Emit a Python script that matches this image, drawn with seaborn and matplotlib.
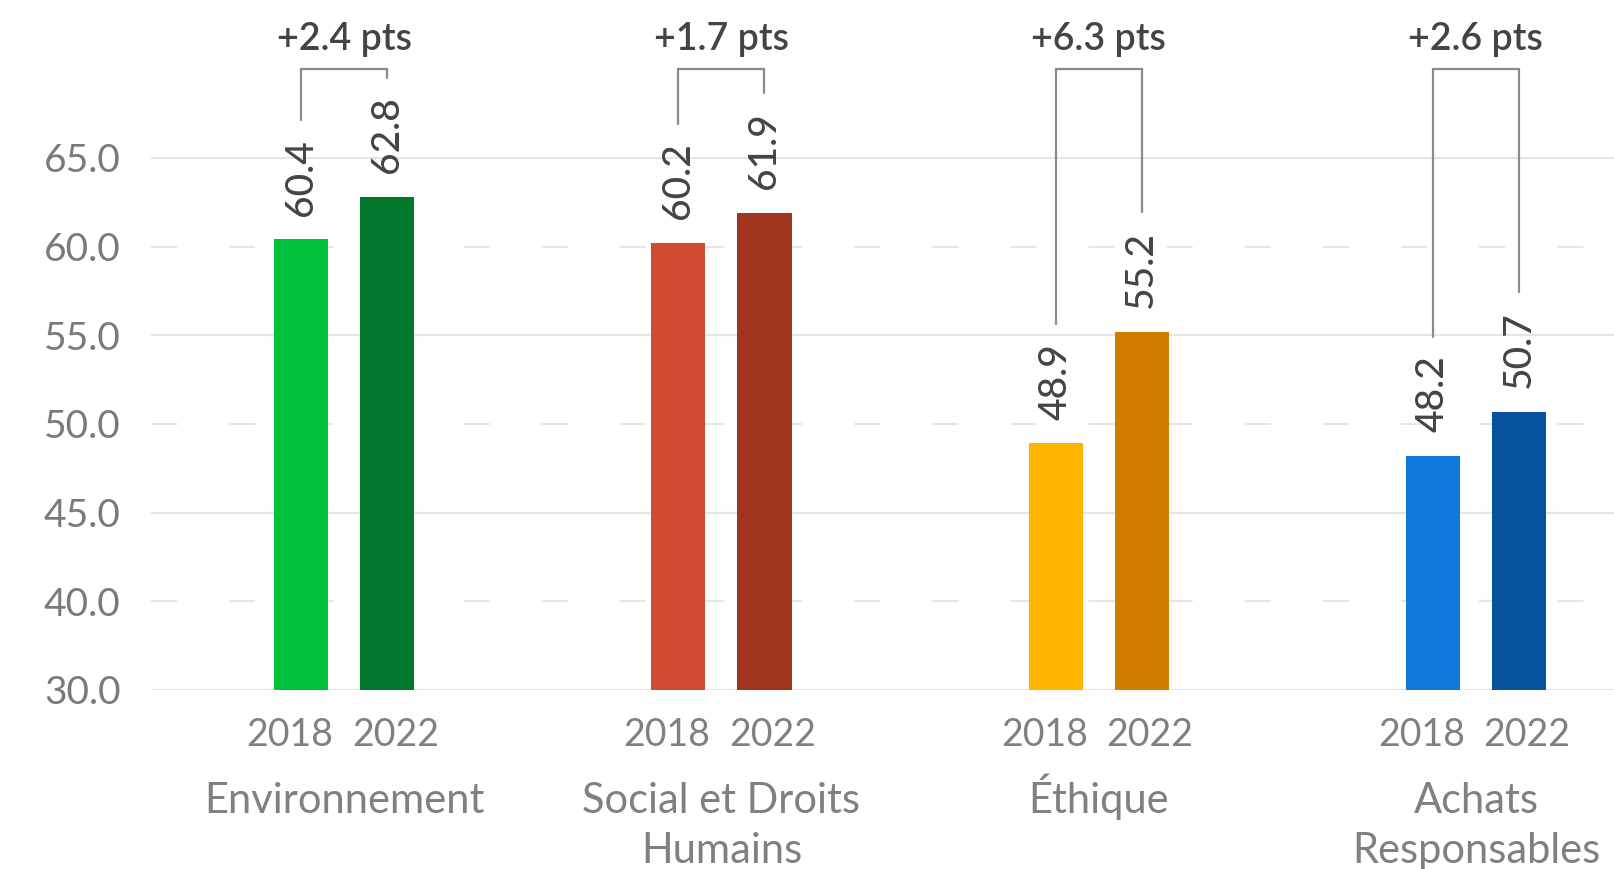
import matplotlib
matplotlib.use("Agg")
import matplotlib.pyplot as plt
import seaborn as sns
import pandas as pd

# Données
categories = ["Environnement", "Social et Droits\nHumains", "Éthique", "Achats\nResponsables"]
annees = ["2018", "2022"]
scores_2018 = [60.4, 60.2, 48.9, 48.2]
scores_2022 = [62.8, 61.9, 55.2, 50.7]
ecarts = [2.4, 1.7, 6.3, 2.6]
couleurs_2018 = ["#00C13A", "#D04A30", "#FFB400", "#0E78DC"]
couleurs_2022 = ["#00772A", "#A0341E", "#D17E00", "#06529C"]

# axe "cassé" : la graduation du bas est affichée 30.0 mais placée à 35
base_axe = 35
ticks_y = [35, 40, 45, 50, 55, 60, 65]
ticks_labels = ["30.0", "40.0", "45.0", "50.0", "55.0", "60.0", "65.0"]
ticks_pointilles = [40, 50, 60]

sns.set_theme(style="white")
plt.rcParams["font.family"] = ["Lato", "DejaVu Sans"]

df = pd.DataFrame(
    {
        "categorie": categories * 2,
        "annee": [annees[0]] * 4 + [annees[1]] * 4,
        "score": scores_2018 + scores_2022,
    }
)

fig = plt.figure(figsize=(16.14, 8.69), dpi=100)
ax = fig.add_axes([151 / 1614, (869 - 690) / 869, 1 - 151 / 1614, 690 / 869])

sns.barplot(
    data=df,
    x="categorie",
    y="score",
    hue="annee",
    order=categories,
    hue_order=annees,
    width=0.456,
    gap=0.37,
    legend=False,
    ax=ax,
    zorder=2,
)

for cont, cols in zip(ax.containers, [couleurs_2018, couleurs_2022]):
    for bar, c in zip(cont, cols):
        bar.set_facecolor(c)
        bar.set_edgecolor("none")

ax.set_ylim(base_axe, 73.9)
ax.set_xlim(-0.512, 3.366)
sns.despine(ax=ax, left=True, bottom=True)
ax.set_xlabel("")
ax.set_ylabel("")

# Grille (pointillés pour 40, 50, 60)
for t in ticks_y:
    if t in ticks_pointilles:
        ax.axhline(t, color="#E6E6E6", lw=1.5, ls=(0, (12.5, 25)), zorder=0)
    else:
        ax.axhline(t, color="#E6E6E6", lw=1.5, zorder=0)

ax.set_yticks(ticks_y)
ax.set_yticklabels(ticks_labels, fontsize=28, color="#7A7A7A")
ax.tick_params(axis="y", length=0, pad=22)
ax.set_xticks([])

fig.canvas.draw()
renderer = fig.canvas.get_renderer()
inv = ax.transData.inverted()

for i, cat in enumerate(categories):
    bars = [ax.containers[0][i], ax.containers[1][i]]
    xs = [b.get_x() + b.get_width() / 2 for b in bars]
    vals = [scores_2018[i], scores_2022[i]]
    tops = []
    for j, (x, v) in enumerate(zip(xs, vals)):
        t = ax.annotate(
            f"{v:.1f}",
            xy=(x, v),
            xytext=(0, 17),
            textcoords="offset points",
            rotation=90,
            ha="center",
            va="bottom",
            fontsize=28,
            color="#444444",
            fontweight="medium",
        )
        bb = t.get_window_extent(renderer)
        tops.append(inv.transform((0, bb.y1 + 19))[1])
        # année
        ax.annotate(
            annees[j],
            xy=(x + (-0.03 if j == 0 else 0.022), 0),
            xycoords=("data", "axes fraction"),
            xytext=(0, -32.4),
            textcoords="offset points",
            ha="center",
            va="center",
            fontsize=27,
            color="#808080",
        )
    # catégorie (alignement sur la ligne de base de la dernière ligne)
    n_lignes = cat.count("\n") + 1
    ax.annotate(
        cat,
        xy=(i, 0),
        xycoords=("data", "axes fraction"),
        xytext=(0, -88.6 - 36 * (n_lignes - 1)),
        textcoords="offset points",
        ha="center",
        va="baseline",
        fontsize=30,
        color="#808080",
        linespacing=1.38,
        multialignment="center",
    )
    # crochet
    y_crochet = 70
    ax.plot(
        [xs[0], xs[0], xs[1], xs[1]],
        [tops[0], y_crochet, y_crochet, tops[1]],
        color="#8A8A8A",
        lw=1.6,
        solid_joinstyle="miter",
        clip_on=False,
        zorder=3,
    )
    ax.text(
        i,
        71.7,
        f"+{ecarts[i]:.1f} pts",
        ha="center",
        va="center",
        fontsize=27,
        color="#444444",
        fontweight="semibold",
    )

fig.savefig("out.png", dpi=100)
